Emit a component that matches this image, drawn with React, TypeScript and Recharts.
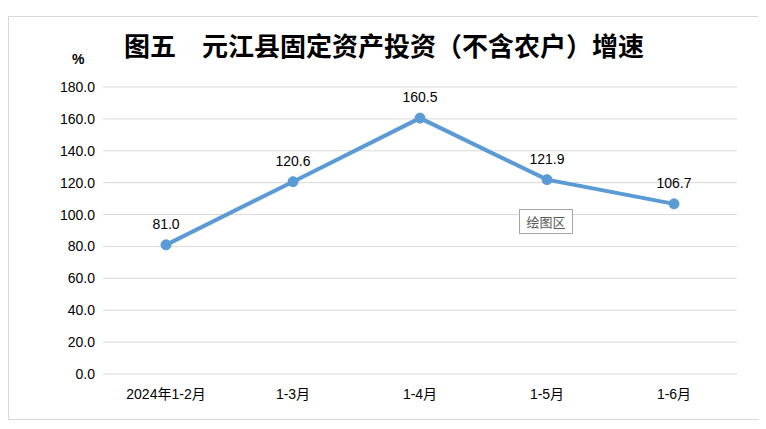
import React from 'react';
import { LineChart, Line, XAxis, YAxis, CartesianGrid, LabelList } from 'recharts';

const periods = ['2024年1-2月', '1-3月', '1-4月', '1-5月', '1-6月'];
const growth = [81.0, 120.6, 160.5, 121.9, 106.7];
const yTicks = [0, 20, 40, 60, 80, 100, 120, 140, 160, 180];

const data = periods.map((p, i) => ({ period: p, growth: growth[i] }));

const font = '"Liberation Sans", "Noto Sans CJK SC", sans-serif';

const App: React.FC = () => {
  return (
    <div
      style={{
        position: 'relative',
        width: 750,
        height: 402,
        marginTop: 8,
        border: '1px solid #d9d9d9',
        background: '#fff',
        fontFamily: font,
      }}
    >
      <div
        style={{
          position: 'absolute',
          left: 0,
          right: 0,
          top: 12,
          textAlign: 'center',
          fontFamily: '"Noto Sans CJK SC", sans-serif',
          fontWeight: 'bold',
          fontSize: 26,
          color: '#000',
          lineHeight: '32px',
        }}
      >
        图五　元江县固定资产投资（不含农户）增速
      </div>
      <div
        style={{
          position: 'absolute',
          left: 63,
          top: 34,
          fontSize: 14,
          fontWeight: 'bold',
          color: '#000',
        }}
      >
        %
      </div>
      <LineChart
        width={750}
        height={402}
        data={data}
        margin={{ top: 70, right: 22, left: 0, bottom: 15 }}
      >
        <CartesianGrid vertical={false} stroke="#d9d9d9" strokeWidth={1} />
        <XAxis
          dataKey="period"
          axisLine={false}
          tickLine={false}
          tickMargin={9}
          height={30}
          padding={{ left: 63, right: 63 }}
          tick={{ fill: '#000', fontSize: 14, fontFamily: font }}
        />
        <YAxis
          width={94}
          domain={[0, 180]}
          ticks={yTicks}
          axisLine={false}
          tickLine={false}
          tickFormatter={(v: number) => v.toFixed(1)}
          tick={{ fill: '#000', fontSize: 14, fontFamily: font }}
        />
        <Line
          dataKey="growth"
          stroke="#5b9bd5"
          strokeWidth={4}
          dot={{ r: 5, fill: '#5b9bd5', stroke: '#5b9bd5', strokeWidth: 1 }}
          isAnimationActive={false}
        >
          <LabelList
            dataKey="growth"
            position="top"
            offset={16}
            formatter={(v: number) => v.toFixed(1)}
            style={{ fill: '#000', fontSize: 14, fontFamily: font }}
          />
        </Line>
      </LineChart>
      <div
        style={{
          position: 'absolute',
          left: 510,
          top: 192,
          width: 52,
          height: 23,
          border: '1px solid #a6a6a6',
          background: '#fff',
          color: '#595959',
          fontFamily: '"Noto Sans CJK SC", sans-serif',
          fontSize: 13,
          lineHeight: '23px',
          textAlign: 'center',
        }}
      >
        绘图区
      </div>
    </div>
  );
};

export default App;
